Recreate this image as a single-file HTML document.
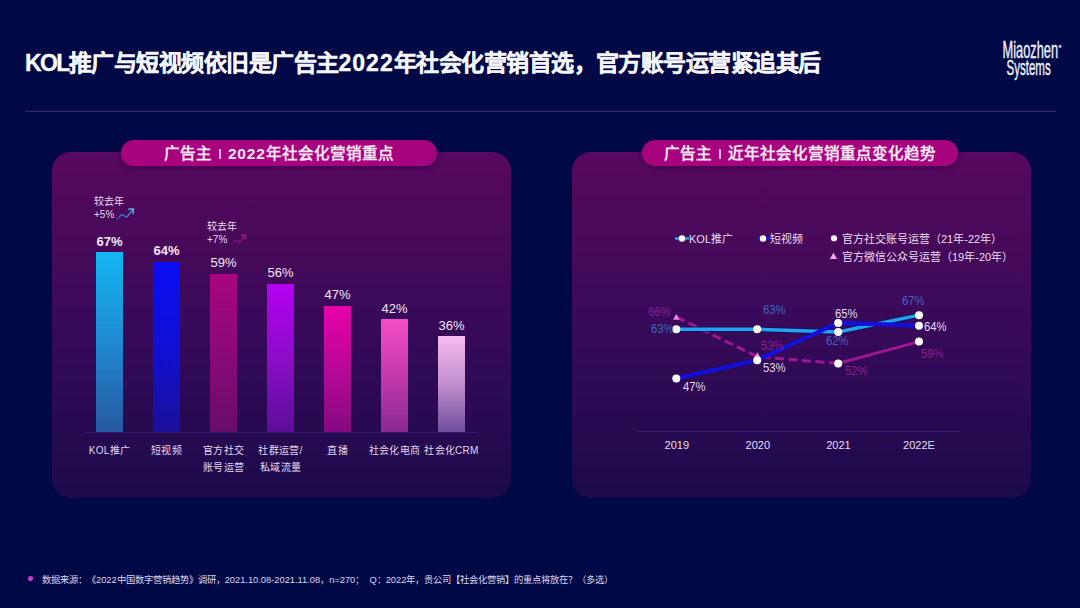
<!DOCTYPE html>
<html lang="zh-CN"><head><meta charset="utf-8">
<style>
html,body{margin:0;padding:0;}
body{text-spacing-trim:space-all;width:1080px;height:608px;overflow:hidden;background:#010846;position:relative;font-family:"Liberation Sans",sans-serif;color:#fff;}
.abs{position:absolute;white-space:nowrap;}
#title{left:25px;top:48px;font-size:23px;font-weight:bold;line-height:30px;color:#fff;letter-spacing:-0.52px;-webkit-text-stroke:0.35px #f4f4ff;}
#hline{left:25px;top:111px;width:1031px;height:1px;background:#36246e;box-shadow:0 -1px 1px rgba(30,14,80,0.7);}
.panel{position:absolute;top:152px;width:459px;height:346px;border-radius:19px;background:linear-gradient(180deg,#57085f 0%,#470959 28%,#390a5a 48%,#2c0a53 72%,#1b0a4c 100%);}
.pill{position:absolute;top:140px;width:316px;height:26px;border-radius:13px;background:#a8037f;box-shadow:0 2px 5px rgba(30,0,50,0.35);font-size:15.5px;font-weight:bold;line-height:27px;text-align:center;color:#fde6f8;}
.sep{display:inline-block;width:1.5px;height:10px;background:#f0b0e0;vertical-align:middle;margin:0 7px;position:relative;top:-1px;}
.bar{position:absolute;width:27px;}
.blab{position:absolute;font-size:13px;line-height:14px;text-align:center;width:50px;color:#f3e6f6;}
.xl{position:absolute;font-size:10px;line-height:17px;text-align:center;width:80px;color:#e6d6ee;letter-spacing:0.25px;}
.lg{position:absolute;font-size:11px;line-height:14px;color:#eadcf2;white-space:nowrap;}
.yr{position:absolute;font-size:11px;line-height:14px;color:#eadcf2;text-align:center;width:50px;}
.pl{position:absolute;font-size:12.5px;line-height:14px;white-space:nowrap;transform:scaleX(0.9);transform-origin:0 50%;}
#foot{left:42px;top:572.5px;font-size:9.3px;line-height:14px;color:#dcd6f0;}
</style></head>
<body>
<div id="title" class="abs"><span style="letter-spacing:-1.6px">KOL</span>推广与短视频依旧是广告主<span style="letter-spacing:1px">2022</span>年社会化营销首选，官方账号运营紧追其后</div>
<div id="hline" class="abs"></div>

<!-- logo -->
<svg class="abs" style="left:990px;top:30px" width="90" height="60" viewBox="990 30 90 60">
  <text x="1002.5" y="57.6" font-family="Liberation Sans" font-size="24" fill="#eef0ff" stroke="#eef0ff" stroke-width="0.4" textLength="55.5" lengthAdjust="spacingAndGlyphs">Miaozhen</text>
  <text x="1006.5" y="74.6" font-family="Liberation Sans" font-size="22" fill="#eef0ff" stroke="#eef0ff" stroke-width="0.4" textLength="44.2" lengthAdjust="spacingAndGlyphs">Systems</text>
  <circle cx="1060" cy="46.3" r="1.6" fill="#b0b8ee"/>
</svg>

<!-- left panel -->
<div class="panel" style="left:52px;"></div>
<div class="pill" style="left:121px;">广告主<span class="sep"></span><span style="letter-spacing:0.8px">2022</span>年社会化营销重点</div>


<!-- bars -->
<div class="bar" style="left:96px;top:252px;height:180.5px;background:linear-gradient(180deg,#12b6f2 0%,#1f8ed6 45%,#2658a0 100%);"></div>
<div class="bar" style="left:153px;top:261.5px;height:171px;background:linear-gradient(180deg,#0a0cf4 0%,#1010d4 50%,#1c0e98 100%);"></div>
<div class="bar" style="left:210px;top:273.8px;height:158.7px;background:linear-gradient(180deg,#a8067e 0%,#8a0a78 50%,#680c6a 100%);"></div>
<div class="bar" style="left:267px;top:283.5px;height:149px;background:linear-gradient(180deg,#b400f2 0%,#8c0cc8 50%,#5c0e98 100%);"></div>
<div class="bar" style="left:324px;top:305.5px;height:127px;background:linear-gradient(180deg,#e800aa 0%,#b80896 50%,#840a80 100%);"></div>
<div class="bar" style="left:381px;top:319.3px;height:113.2px;background:linear-gradient(180deg,#f44cc4 0%,#c43aac 50%,#8a2894 100%);"></div>
<div class="bar" style="left:438px;top:336px;height:96.5px;background:linear-gradient(180deg,#f6bcee 0%,#c28ece 50%,#6e4c9c 100%);"></div>
<div class="abs" style="left:84px;top:432px;width:395px;height:1px;background:#36186c;"></div>
<div class="blab" style="left:84.5px;top:235px;font-weight:bold;">67%</div>
<div class="blab" style="left:141.5px;top:244px;font-weight:bold;">64%</div>
<div class="blab" style="left:198.5px;top:256px;">59%</div>
<div class="blab" style="left:255.5px;top:266px;">56%</div>
<div class="blab" style="left:312.5px;top:288px;">47%</div>
<div class="blab" style="left:369.5px;top:302px;">42%</div>
<div class="blab" style="left:426.5px;top:319px;">36%</div>
<div class="xl" style="left:69.5px;top:441.5px;">KOL推广</div>
<div class="xl" style="left:126.5px;top:441.5px;">短视频</div>
<div class="xl" style="left:183.5px;top:441.5px;">官方社交<br>账号运营</div>
<div class="xl" style="left:240.5px;top:441.5px;">社群运营/<br>私域流量</div>
<div class="xl" style="left:297.5px;top:441.5px;">直播</div>
<div class="xl" style="left:354.5px;top:441.5px;">社会化电商</div>
<div class="xl" style="left:411.5px;top:441.5px;">社会化CRM</div>
<div class="abs" style="left:94px;top:195px;font-size:10px;line-height:13px;color:#e6d6ee;">较去年<br>+5%</div>
<div class="abs" style="left:207px;top:220px;font-size:10px;line-height:13px;color:#e6d6ee;">较去年<br>+7%</div>
<svg class="abs" style="left:110px;top:202px" width="30" height="24" viewBox="110 202 30 24">
  <defs><linearGradient id="ga" x1="0" y1="1" x2="1" y2="0"><stop offset="0" stop-color="#2c4cb0"/><stop offset="1" stop-color="#4aaae8"/></linearGradient></defs>
  <polyline points="116.8,219.4 121.6,214.4 126.6,217.2 132.8,209.6" fill="none" stroke="url(#ga)" stroke-width="1.5" stroke-linejoin="round" stroke-linecap="round"/>
  <polyline points="128.6,209.2 133.4,208.8 133.2,213.6" fill="none" stroke="#4aaae8" stroke-width="1.5" stroke-linecap="round"/>
</svg>
<svg class="abs" style="left:226px;top:228px" width="26" height="22" viewBox="226 228 26 22">
  <defs><linearGradient id="gb" x1="0" y1="1" x2="1" y2="0"><stop offset="0" stop-color="#5a1070"/><stop offset="1" stop-color="#a00e8a"/></linearGradient></defs>
  <polyline points="231.5,244.5 235.5,240.5 239.5,242.5 245,235.5" fill="none" stroke="url(#gb)" stroke-width="1.6" stroke-linejoin="round" stroke-linecap="round"/>
  <polyline points="241.5,235.2 245.5,234.8 245.3,238.8" fill="none" stroke="#a00e8a" stroke-width="1.6" stroke-linecap="round"/>
</svg>

<!-- right panel -->
<div class="panel" style="left:572px;"></div>
<div class="pill" style="left:642px;">广告主<span class="sep"></span>近年社会化营销重点变化趋势</div>


<!-- line chart -->
<svg class="abs" style="left:572px;top:152px" width="459" height="346" viewBox="572 152 459 346">
  <line x1="636" y1="431.5" x2="960" y2="431.5" stroke="#3a1c6e" stroke-width="1"/>
  <polyline points="676.3,317 757.2,356.7 838.2,363.4" fill="none" stroke="#a0168e" stroke-width="3" stroke-dasharray="9,4.5"/>
  <polyline points="838.2,363.4 919,341.6" fill="none" stroke="#a0168e" stroke-width="3"/>
  <polyline points="676.3,329.3 757.2,329.3 838.2,332 919,315.2" fill="none" stroke="#1a0c5c" stroke-opacity="0.7" stroke-width="5.5" stroke-linejoin="round"/>
  <polyline points="676.3,329.3 757.2,329.3 838.2,332 919,315.2" fill="none" stroke="#1ea6ee" stroke-width="3.4" stroke-linejoin="round"/>
  <polyline points="676.3,378.5 757.2,360.2 838.2,322.9 919,325.7" fill="none" stroke="#1210dc" stroke-width="4.2" stroke-linejoin="round"/>
  <path d="M676.3,313.8 L679.6,319.8 L673,319.8 Z" fill="#f080e8"/>
  <path d="M757.4,352.3 L760.7,358.3 L754.1,358.3 Z" fill="#f080e8"/>
  <g fill="#fff">
    <circle cx="676.3" cy="329.3" r="4"/>
    <circle cx="757.2" cy="329.3" r="4"/>
    <circle cx="838.2" cy="332" r="4"/>
    <circle cx="919" cy="315.2" r="4"/>
    <circle cx="676.3" cy="378.5" r="4"/>
    <circle cx="757.2" cy="360.2" r="4"/>
    <circle cx="838.2" cy="322.9" r="4"/>
    <circle cx="919" cy="325.7" r="4"/>
    <circle cx="838.2" cy="363.4" r="4"/>
    <circle cx="919" cy="341.6" r="4"/>
  </g>
  <!-- legend icons -->
  <line x1="675" y1="238.5" x2="689" y2="238.5" stroke="#1ea6ee" stroke-width="2.5"/>
  <circle cx="682" cy="238.5" r="3.2" fill="#fff"/>
  <line x1="757" y1="238.5" x2="769" y2="238.5" stroke="#1410e6" stroke-width="2.5"/>
  <circle cx="763" cy="238.5" r="3.2" fill="#fff"/>
  <circle cx="834" cy="238.3" r="3.6" fill="#c040b0" opacity="0.45"/>
  <circle cx="834" cy="238.3" r="3" fill="#fff"/>
  <path d="M833.5,252.5 L837,259 L830,259 Z" fill="#f6a6f0"/>
</svg>
<div class="lg" style="left:689px;top:232px;">KOL推广</div>
<div class="lg" style="left:770px;top:232px;">短视频</div>
<div class="lg" style="left:842px;top:232px;">官方社交账号运营（21年-22年）</div>
<div class="lg" style="left:842px;top:250px;">官方微信公众号运营（19年-20年）</div>
<div class="yr" style="left:651.8px;top:438px;">2019</div>
<div class="yr" style="left:732.8px;top:438px;">2020</div>
<div class="yr" style="left:813.5px;top:438px;">2021</div>
<div class="yr" style="left:894px;top:438px;">2022E</div>
<div class="pl" style="left:648px;top:305px;color:#86208f;">66%</div>
<div class="pl" style="left:651px;top:322px;color:#3c66c0;">63%</div>
<div class="pl" style="left:682.5px;top:380px;color:#e6d6f2;">47%</div>
<div class="pl" style="left:762.5px;top:303px;color:#3c66c0;">63%</div>
<div class="pl" style="left:760.5px;top:338.5px;color:#86208f;">53%</div>
<div class="pl" style="left:762.5px;top:361px;color:#e6d6f2;">53%</div>
<div class="pl" style="left:834.5px;top:307px;color:#e6d6f2;">65%</div>
<div class="pl" style="left:826px;top:334px;color:#3c66c0;">62%</div>
<div class="pl" style="left:845px;top:364px;color:#86208f;">52%</div>
<div class="pl" style="left:901.5px;top:294px;color:#3c66c0;">67%</div>
<div class="pl" style="left:923.6px;top:319.5px;color:#e6d6f2;">64%</div>
<div class="pl" style="left:921px;top:347px;color:#86208f;">59%</div>

<div id="foot" class="abs">数据来源：《2022中国数字营销趋势》调研，2021.10.08-2021.11.08，n=270；&nbsp;&nbsp;Q：2022年，贵公司【社会化营销】的重点将放在？（多选）</div>
<div class="abs" style="left:28px;top:576px;width:4.5px;height:4.5px;border-radius:50%;background:#c43ad6;"></div>
</body></html>
